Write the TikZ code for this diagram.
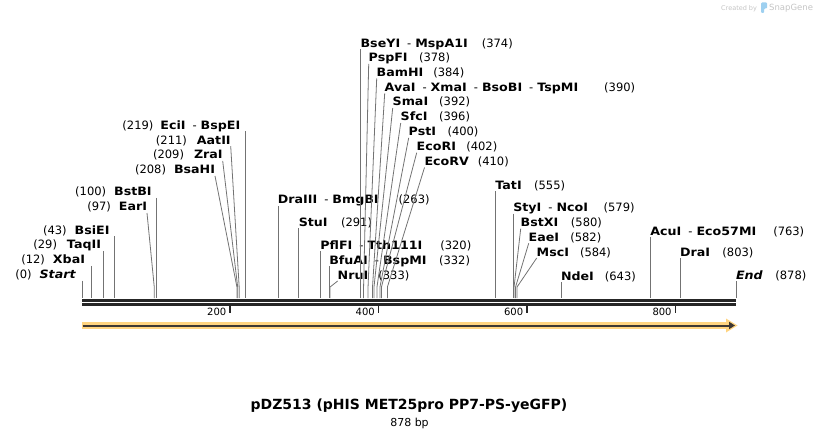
\documentclass[tikz,border=0pt]{standalone}
\usepackage{fontspec}
\setmainfont{DejaVu Sans}[BoldFeatures={FakeStretch=1.1},BoldItalicFeatures={FakeStretch=1.1}]
\newfontfamily\titlefont{DejaVu Sans}
\usetikzlibrary{arrows.meta}

\definecolor{cutgray}{RGB}{115,115,115}
\definecolor{strand}{RGB}{38,38,38}
\definecolor{glow}{RGB}{255,212,128}
\definecolor{featdark}{RGB}{62,56,50}
\definecolor{markgray}{RGB}{196,196,196}
\definecolor{logoblue}{RGB}{158,208,240}

\newcommand{\bpx}[1]{82+0.7449*#1}
\newcommand{\enz}[1]{\textbf{#1}}
\newcommand{\posR}[2][11pt]{\hspace{#1}(#2)}
\newcommand{\posL}[2][8pt]{(#2)\hspace{#1}}
\newcommand{\also}{\hspace{7pt}-\hspace{4pt}}

% label straight above its site
\newcommand{\cutV}[6]{%
  \coordinate (#1-cut) at ({\bpx{#2}},298);
  \node[enzlabel, anchor=base #3] (#1) at (#4,#5) {#6};
  \draw[cutline] (#1-cut |- #1.south) -- (#1-cut);
}
% label pushed aside, line bends down to the site
\newcommand{\cutF}[6]{%
  \coordinate (#1-cut) at ({\bpx{#2}},298);
  \coordinate (#1-bend) at ({\bpx{#2}},287);
  \node[enzlabel, anchor=base #3] (#1) at (#4,#5) {#6};
  \draw[cutline] (#1.south #3) -- (#1-bend) -- (#1-cut);
}

\begin{document}
\begin{tikzpicture}[x=1pt,y=-1pt,
    enzlabel/.style={inner sep=0pt, outer sep=0pt, text height=8.5pt, text depth=2pt,
      font=\fontsize{11.5}{13}\selectfont},
    cutline/.style={draw=cutgray, line width=0.8pt},
    strandline/.style={draw=strand, line width=2.7pt},
    tickline/.style={draw=strand, line width=1.4pt},
    ticklabel/.style={inner sep=0pt, font=\fontsize{10}{12}\selectfont},
    featline/.style={draw=featdark, line width=2pt}]
  \useasboundingbox (0,0) rectangle (818,438);

  % left-hand sites
  \cutV{Start}{0}{east}{76}{278.7}{\posL{0}\textbf{\textit{Start}}}
  \cutV{XbaI}{12}{east}{85}{263.8}{\posL{12}\enz{XbaI}}
  \cutV{TaqII}{29}{east}{101}{248.9}{\posL[10pt]{29}\enz{TaqII}}
  \cutV{BsiEI}{43}{east}{109.5}{234}{\posL{43}\enz{BsiEI}}
  \cutF{EarI}{97}{east}{147}{211}{\posL{97}\enz{EarI}}
  \cutV{BstBI}{100}{east}{151.7}{196}{\posL{100}\enz{BstBI}}
  \cutF{BsaHI}{208}{east}{215}{174}{\posL{208}\enz{BsaHI}}
  \cutF{ZraI}{209}{east}{222.7}{159}{\posL[10pt]{209}\enz{ZraI}}
  \cutF{AatII}{211}{east}{230.7}{144.2}{\posL[10pt]{211}\enz{AatII}}
  \cutV{EciI}{219}{east}{240.3}{129.3}{\posL[7pt]{219}\enz{EciI}\also\enz{BspEI}}

  % middle sites
  \cutV{DraIII}{263}{west}{277.9}{204}{\enz{DraIII}\also\enz{BmgBI}\posR[20pt]{263}}
  \cutV{StuI}{291}{west}{298.8}{226}{\enz{StuI}\posR[13.4pt]{291}}
  \cutV{PflFI}{320}{west}{320.4}{249}{\enz{PflFI}\also\enz{Tth111I}\posR[18pt]{320}}
  \cutV{BfuAI}{332}{west}{329.3}{264}{\enz{BfuAI}\also\enz{BspMI}\posR[12.5pt]{332}}
  \cutF{NruI}{333}{west}{337.7}{279}{\enz{NruI}\posR[10.2pt]{333}}

  % polylinker stack
  \cutV{BseYI}{374}{west}{360.6}{47.3}{\enz{BseYI}\also\enz{MspA1I}\posR[14pt]{374}}
  \cutF{PspFI}{378}{west}{368.7}{61.8}{\enz{PspFI}\posR[11.4pt]{378}}
  \cutF{BamHI}{384}{west}{376.7}{76.5}{\enz{BamHI}\posR[10pt]{384}}
  \cutF{AvaI}{390}{west}{384.7}{91.3}{\enz{AvaI}\also\enz{XmaI}\also\enz{BsoBI}\also\enz{TspMI}\posR[26pt]{390}}
  \cutF{SmaI}{392}{west}{392.7}{106}{\enz{SmaI}\posR{392}}
  \cutF{SfcI}{396}{west}{400.7}{121}{\enz{SfcI}\posR[11.6pt]{396}}
  \cutF{PstI}{400}{west}{408.7}{135.8}{\enz{PstI}\posR[11.5pt]{400}}
  \cutF{EcoRI}{402}{west}{416.7}{150.7}{\enz{EcoRI}\posR[10.4pt]{402}}
  \cutF{EcoRV}{410}{west}{424.5}{165.5}{\enz{EcoRV}\posR[9pt]{410}}

  % right-hand sites
  \cutV{TatI}{555}{west}{495.4}{189.3}{\enz{TatI}\posR[12.5pt]{555}}
  \cutV{StyI}{579}{west}{513.3}{211.7}{\enz{StyI}\also\enz{NcoI}\posR[15.6pt]{579}}
  \cutF{BstXI}{580}{west}{520.7}{226.7}{\enz{BstXI}\posR[12.6pt]{580}}
  \cutF{EaeI}{582}{west}{528.7}{241.3}{\enz{EaeI}\posR[11.2pt]{582}}
  \cutF{MscI}{584}{west}{536.7}{256}{\enz{MscI}\posR{584}}
  \cutV{NdeI}{643}{west}{561}{280}{\enz{NdeI}\posR{643}}
  \cutV{AcuI}{763}{west}{650.4}{235}{\enz{AcuI}\also\enz{Eco57MI}\posR[17pt]{763}}
  \cutV{DraI}{803}{west}{680.2}{256}{\enz{DraI}\posR[12.3pt]{803}}
  \cutV{End}{878}{west}{736}{279.3}{\textbf{\textit{End}}\posR[12.6pt]{878}}

  % double strand and ruler
  \draw[strandline] (82,300.35) -- (736,300.35);
  \draw[strandline] (82,304.2) -- (736,304.2);
  \foreach \v in {200,400,600,800} {
    \draw[tickline] ({81.6+0.7421*\v},305.5) -- ++(0,7.2);
    \node[ticklabel, anchor=base east] (tick\v) at ({81.6+0.7421*\v-3.5},315.7) {\v};
  }

  % feature arrow
  \fill[glow] (82,322) rectangle (729,329);
  \fill[glow] (726,318.5) -- (737.5,325.5) -- (726,332.5) -- cycle;
  \draw[featline, -{Triangle[length=6pt,width=7pt]}] (82.5,325.5) -- (735,325.5);

  % title
  \node[inner sep=0pt, anchor=base, font=\titlefont\fontsize{14}{16}\selectfont\bfseries] (mapname)
    at (409,409) {pDZ513 (pHIS MET25pro PP7-PS-yeGFP)};
  \node[inner sep=0pt, anchor=base, font=\fontsize{11}{13}\selectfont] (maplen)
    at (409.5,426) {878 bp};

  % watermark
  \node[inner sep=0pt, anchor=base west, text=markgray, font=\fontsize{6.5}{8}\selectfont] (madeby)
    at (721,10.5) {Created by};
  \fill[logoblue, rounded corners=1pt] (761,2.5) -- (767,2.5) -- (767,8.5) -- (764,8.5)
    -- (764,13) -- (761,13) -- cycle;
  \node[inner sep=0pt, anchor=base west, text=markgray, font=\fontsize{8.5}{10}\selectfont] (snapgene)
    at (769,11) {SnapGene};
\end{tikzpicture}
\end{document}
